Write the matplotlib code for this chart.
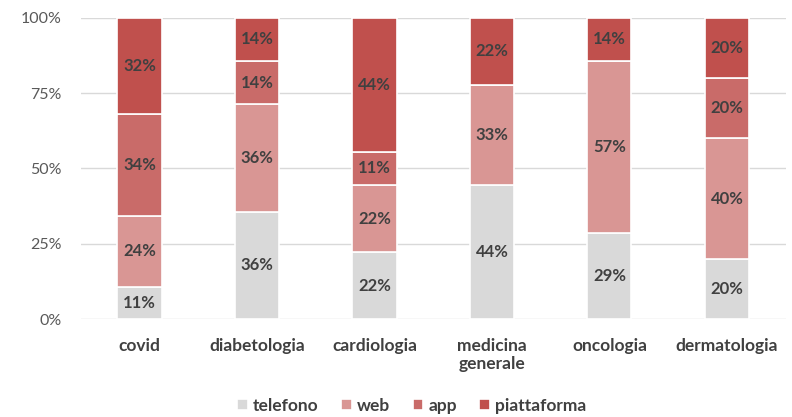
import numpy as np
import matplotlib
matplotlib.use("Agg")
import matplotlib.pyplot as plt

plt.rcParams["font.family"] = ["Lato", "DejaVu Sans"]

# ── data (share of each channel, %) ───────────────────────────────────────────
categories = ["covid", "diabetologia", "cardiologia", "medicina\ngenerale", "oncologia", "dermatologia"]
series_names = ["telefono", "web", "app", "piattaforma"]
telefono    = [10.6, 35.7, 22.2, 44.4, 28.6, 20.0]
web         = [23.7, 35.7, 22.2, 33.3, 57.1, 40.0]
app         = [33.9, 14.3, 11.1, 0.0, 0.0, 20.0]
piattaforma = [31.8, 14.3, 44.4, 22.2, 14.3, 20.0]
colors = ["#D9D9D9", "#D99694", "#C96B69", "#C0504D"]

data = np.array([telefono, web, app, piattaforma], dtype=float)
shares = data / data.sum(axis=0)

fig = plt.figure(figsize=(7.92, 4.17), dpi=100)
ax = fig.add_axes([0.102, 0.235, 0.890, 0.722])

x = np.arange(len(categories))
bottom = np.zeros(len(categories))
for vals, name, col in zip(shares, series_names, colors):
    bars = ax.bar(x, vals, 0.375, bottom=bottom, color=col, edgecolor="white",
                  linewidth=1.2, label=name, zorder=3)
    for b, v, y0 in zip(bars, vals, bottom):
        if v > 0:
            ax.text(b.get_x() + b.get_width() / 2, y0 + v / 2, f"{v*100:.0f}%",
                    ha="center", va="center", fontsize=12, fontweight="bold",
                    color="#404040", zorder=4)
    bottom += vals

ax.set_xlim(-0.5, len(categories) - 0.5)
ax.set_ylim(0, 1)
ax.set_yticks([0, 0.25, 0.5, 0.75, 1.0])
ax.set_yticklabels(["0%", "25%", "50%", "75%", "100%"], fontsize=11.5, color="#595959")
ax.set_xticks(x)
ax.set_xticklabels(categories, fontsize=12.5, fontweight="bold", color="#404040",
                   linespacing=1.15)
ax.tick_params(axis="both", length=0)
ax.tick_params(axis="x", pad=14)
ax.tick_params(axis="y", pad=14)
ax.yaxis.grid(True, color="#D9D9D9", lw=1, zorder=0)
for s in ax.spines.values():
    s.set_visible(False)

leg = fig.legend(loc="lower center", bbox_to_anchor=(0.52, -0.03), ncol=4, frameon=False,
                 handlelength=0.6, handleheight=0.6, handletextpad=0.3, columnspacing=1.3,
                 prop={"size": 12.5, "weight": "bold"})
for t in leg.get_texts():
    t.set_color("#404040")

fig.savefig("out.png", dpi=100)
